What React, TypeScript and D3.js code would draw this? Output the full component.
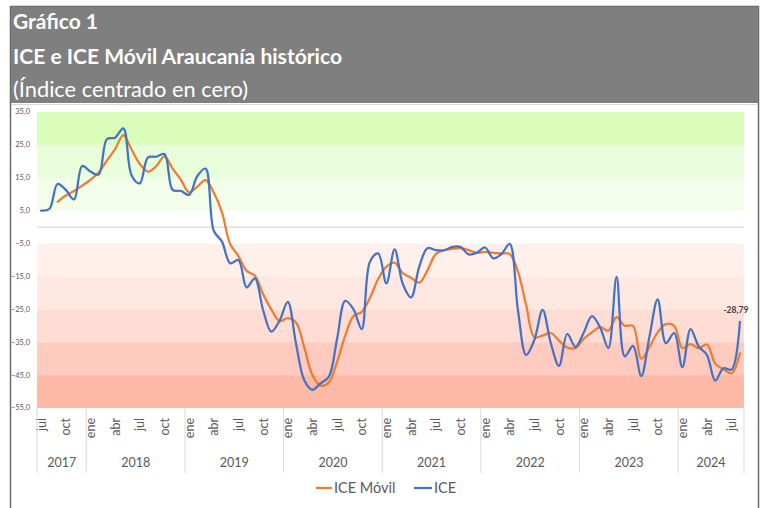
import React from 'react';
import * as d3 from 'd3';

// ICE monthly values, jul 2017 .. ago 2024
const ice = [
  5.0, 5.5, 13.1, 11.3, 8.4, 18.6,
  16.9, 16.0, 26.7, 27.2, 30.0, 15.8, 13.3, 21.2, 21.4, 22.2, 11.3, 11.0,
  9.8, 15.5, 17.8, -1.1, -4.4, -11.0, -10.0, -18.3, -15.6, -25.2, -31.8, -28.5,
  -22.7, -35.3, -46.5, -49.5, -47.5, -45.5, -34.0, -22.4, -25.0, -31.0, -10.5, -8.0,
  -17.1, -6.8, -17.3, -21.4, -12.0, -6.4, -7.0, -7.1, -6.0, -6.0, -8.3, -7.8,
  -6.2, -9.5, -8.2, -5.1, -25.2, -38.9, -34.3, -25.2, -35.3, -42.2, -32.5, -36.4,
  -32.1, -27.1, -30.5, -36.8, -15.1, -39.3, -36.1, -45.3, -33.3, -22.0, -35.3, -32.2,
  -42.6, -31.0, -36.3, -38.9, -46.7, -42.9, -43.3, -28.79,
];

// ICE Móvil, starts in sep 2017
const iceMovil = [
  null, null, 7.7, 9.6, 11.0, 12.6,
  14.4, 16.6, 20.2, 23.7, 28.0, 23.6, 19.2, 16.9, 18.5, 21.5, 17.8, 14.4,
  10.6, 12.3, 14.3, 10.5, 4.5, -5.2, -8.8, -13.3, -14.8, -20.4, -25.0, -28.6,
  -27.7, -29.0, -36.5, -45.0, -48.2, -47.2, -41.0, -33.0, -27.0, -25.8, -21.5, -15.8,
  -12.0, -10.8, -14.0, -15.4, -16.9, -13.1, -8.2, -7.0, -6.6, -6.4, -7.0, -7.8,
  -7.5, -7.8, -8.0, -8.2, -13.5, -23.7, -33.5, -33.0, -32.2, -34.5, -36.6, -36.8,
  -34.0, -32.0, -30.4, -31.5, -27.4, -30.0, -30.0, -40.0, -36.5, -32.0, -29.5, -30.0,
  -36.8, -35.6, -36.8, -35.7, -41.5, -43.2, -44.4, -38.4,
];

const monthNames = ['ene', 'feb', 'mar', 'abr', 'may', 'jun', 'jul', 'ago', 'sep', 'oct', 'nov', 'dic'];
const startYear = 2017;
const startMonth = 6; // jul

const yTicks = [35, 25, 15, 5, -5, -15, -25, -35, -45, -55];
const bandTop = [35, 25, 15, -5, -15, -25, -35, -45];
const bandBottom = [25, 15, 5, -15, -25, -35, -45, -55];
const bandColors = ['#d9fcb8', '#e8fdd9', '#f2fee9', '#fff0ec', '#ffe8e2', '#ffddd5', '#ffcbbf', '#ffb9a6'];

const lastLabel = '-28,79';

const ORANGE = '#ED7D31';
const BLUE = '#4472C4';
const GREY_TXT = '#595959';
const FONT = 'Lato, "Open Sans", sans-serif';

const periods = ice.map((_, i) => {
  const m = startMonth + i;
  return { year: startYear + Math.floor(m / 12), month: m % 12 };
});

const App = () => {
  const n = ice.length;
  const x = d3.scaleBand<number>().domain(d3.range(n)).range([37, 744]).padding(0);
  const cx = (i: number) => (x(i) as number) + x.bandwidth() / 2;
  const y = d3.scaleLinear().domain([-55, 35]).range([408, 112]);

  const fmt = d3.formatLocale({ decimal: ',', thousands: '.', grouping: [3], currency: ['$', ''] }).format('.1f');

  const line = d3.line<number | null>()
    .defined(d => d !== null)
    .x((_, i) => cx(i))
    .y(d => y(d as number))
    .curve(d3.curveCatmullRom.alpha(0.5));

  // year groups
  const years = Array.from(new Set(periods.map(p => p.year)));
  const groups = years.map(yr => {
    const idx = periods.map((p, i) => (p.year === yr ? i : -1)).filter(i => i >= 0);
    const x0 = x(idx[0]) as number;
    const x1 = (x(idx[idx.length - 1]) as number) + x.bandwidth();
    return { yr, x0, x1 };
  });

  return (
    <div style={{ position: 'absolute', left: 0, top: 0 }}>
      <svg width={766} height={508} style={{ display: 'block', fontFamily: FONT }}>
        <rect x={0} y={0} width={766} height={508} fill="#fff" />
        {/* frame + title box */}
        <rect x={10.5} y={6.5} width={748} height={520} fill="#fff" stroke="#6b6b6b" strokeWidth={1.5} />
        <rect x={11} y={7} width={747} height={96} fill="#7f7f7f" />
        <line x1={11} x2={758} y1={104.5} y2={104.5} stroke="#d9d9d9" />
        <text x={13} y={29} fill="#fff" fontWeight="bold" fontSize={20} textLength={85} lengthAdjust="spacingAndGlyphs">Gráfico 1</text>
        <text x={13} y={64} fill="#fff" fontWeight="bold" fontSize={20} textLength={329} lengthAdjust="spacingAndGlyphs">ICE e ICE Móvil Araucanía histórico</text>
        <text x={13} y={97} fill="#fff" fontSize={21} textLength={235} lengthAdjust="spacingAndGlyphs">(Índice centrado en cero)</text>

        {/* background bands */}
        {bandTop.map((t, i) => (
          <rect key={i} x={37} width={707} y={y(t)} height={y(bandBottom[i]) - y(t)} fill={bandColors[i]} />
        ))}
        <line x1={37} x2={744} y1={y(0)} y2={y(0)} stroke="#d9d9d9" strokeWidth={1.2} />

        {/* y axis labels */}
        {yTicks.map(t => (
          <text key={t} x={30} y={y(t)} dy="0.32em" textAnchor="end" fontSize={7.5} fill={GREY_TXT}>{fmt(t)}</text>
        ))}

        {/* x axis: months */}
        {periods.map((p, i) => p.month % 3 === 0 ? (
          <text key={i} transform={`translate(${cx(i) + 4.5},418) rotate(-90)`} textAnchor="end" fontSize={12.5} fill={GREY_TXT}>
            {monthNames[p.month]}
          </text>
        ) : null)}
        {/* year separators and labels */}
        {groups.map(g => (
          <line key={'s' + g.yr} x1={g.x0} x2={g.x0} y1={408} y2={473} stroke="#d9d9d9" />
        ))}
        <line x1={744} x2={744} y1={408} y2={473} stroke="#d9d9d9" />
        {groups.map(g => (
          <text key={'y' + g.yr} x={(g.x0 + g.x1) / 2} y={467} textAnchor="middle" fontSize={12.5} fill={GREY_TXT}>{g.yr}</text>
        ))}

        {/* series */}
        <path d={line(iceMovil) || ''} fill="none" stroke={ORANGE} strokeWidth={2.25} strokeLinecap="round" />
        <path d={line(ice) || ''} fill="none" stroke={BLUE} strokeWidth={2.25} strokeLinecap="round" />
        <text x={cx(n - 1) - 4} y={y(ice[n - 1]) - 9} textAnchor="middle" fontSize={8.5} fontWeight="bold" fill="#404040">{lastLabel}</text>

        {/* legend */}
        <line x1={316} x2={332} y1={488} y2={488} stroke={ORANGE} strokeWidth={2.25} />
        <text x={334} y={493} fontSize={14.5} fill={GREY_TXT}>ICE Móvil</text>
        <line x1={414} x2={432} y1={488} y2={488} stroke={BLUE} strokeWidth={2.25} />
        <text x={434} y={493} fontSize={14.5} fill={GREY_TXT}>ICE</text>
      </svg>
    </div>
  );
};

export default App;
